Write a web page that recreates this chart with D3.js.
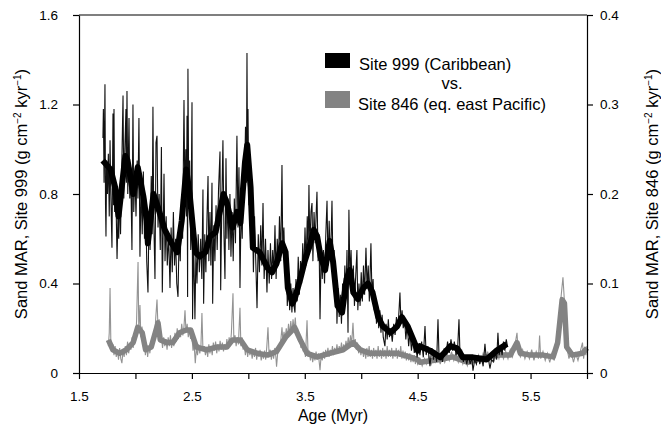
<!DOCTYPE html>
<html>
<head>
<meta charset="utf-8">
<script src="https://cdn.jsdelivr.net/npm/d3@7"></script>
<style>
  body { margin: 0; background: #fff; }
  text { font-family: "Liberation Sans", Arial, sans-serif; }
</style>
</head>
<body>
<div id="chart"></div>
<script>
// Site 999 (Caribbean), left axis -- [age Myr, sand MAR]
var site999Raw = [
  [1.712,1.05],[1.716,1.18],[1.722,0.85],[1.730,1.29],[1.735,0.75],[1.739,0.61],[1.745,0.95],[1.752,0.80],
  [1.760,0.98],[1.768,0.70],[1.775,1.04],[1.782,0.80],[1.792,0.56],[1.801,1.16],[1.806,0.75],[1.810,1.18],
  [1.816,0.72],[1.825,0.85],[1.837,0.51],[1.845,0.70],[1.852,0.60],[1.860,0.82],[1.868,0.62],[1.878,0.90],
  [1.890,1.24],[1.897,0.78],[1.905,0.98],[1.916,1.18],[1.920,0.85],[1.925,1.26],[1.932,0.80],[1.943,1.14],
  [1.950,0.78],[1.958,0.92],[1.969,0.55],[1.978,1.20],[1.985,0.72],[1.995,0.90],[2.005,0.70],[2.015,0.95],
  [2.022,0.78],[2.031,1.14],[2.040,0.52],[2.050,0.85],[2.060,0.62],[2.070,0.90],[2.080,0.60],[2.090,0.78],
  [2.100,0.50],[2.111,0.36],[2.120,0.70],[2.130,0.55],[2.140,0.88],[2.148,0.62],[2.155,1.19],[2.162,0.70],
  [2.173,0.42],[2.182,1.03],[2.191,1.06],[2.200,0.65],[2.210,0.80],[2.220,0.55],[2.230,1.01],[2.238,0.36],
  [2.253,0.89],[2.262,0.50],[2.272,0.70],[2.282,0.48],[2.294,0.62],[2.306,0.38],[2.316,0.65],[2.326,0.45],
  [2.336,0.72],[2.346,0.48],[2.356,0.60],[2.366,0.40],[2.377,0.34],[2.387,0.62],[2.397,0.50],[2.408,0.78],
  [2.418,0.60],[2.430,1.22],[2.438,0.75],[2.446,1.00],[2.452,0.70],[2.457,1.15],[2.462,0.34],[2.465,1.36],
  [2.472,0.80],[2.480,0.95],[2.490,0.55],[2.501,1.21],[2.506,0.24],[2.515,0.60],[2.527,0.24],[2.536,0.55],
  [2.545,0.40],[2.556,0.62],[2.566,0.45],[2.578,0.60],[2.588,0.42],[2.598,0.82],[2.604,0.31],[2.614,0.62],
  [2.624,0.45],[2.634,0.70],[2.643,0.88],[2.650,0.50],[2.660,0.72],[2.668,0.48],[2.678,0.85],[2.684,0.31],
  [2.694,0.66],[2.704,0.50],[2.714,0.75],[2.724,0.55],[2.736,0.82],[2.749,0.99],[2.755,0.37],[2.765,0.75],
  [2.775,1.04],[2.784,0.62],[2.793,0.42],[2.802,0.96],[2.810,0.60],[2.820,0.78],[2.828,0.55],[2.837,0.80],
  [2.846,0.52],[2.856,0.72],[2.866,0.50],[2.876,0.78],[2.886,0.58],[2.899,1.06],[2.908,0.65],[2.917,0.92],
  [2.926,0.38],[2.936,0.75],[2.946,0.60],[2.956,0.95],[2.964,0.80],[2.975,1.10],[2.983,0.85],[2.988,1.43],
  [2.993,0.90],[2.997,1.18],[3.005,0.75],[3.015,0.97],[3.025,0.55],[3.035,0.75],[3.045,0.45],[3.055,0.70],
  [3.067,0.48],[3.077,0.29],[3.088,0.62],[3.098,0.45],[3.110,0.66],[3.120,0.48],[3.130,0.76],[3.140,0.42],
  [3.152,0.60],[3.165,0.36],[3.174,0.55],[3.185,0.40],[3.196,0.58],[3.206,0.42],[3.216,0.55],[3.226,0.45],
  [3.236,0.66],[3.246,0.42],[3.256,0.60],[3.266,0.48],[3.276,0.70],[3.287,0.50],[3.298,0.93],[3.305,0.55],
  [3.315,0.65],[3.325,0.45],[3.335,0.55],[3.345,0.30],[3.356,0.45],[3.366,0.28],[3.376,0.40],[3.386,0.27],
  [3.396,0.38],[3.405,0.30],[3.413,0.27],[3.422,0.42],[3.432,0.32],[3.442,0.52],[3.452,0.35],[3.462,0.50],
  [3.472,0.40],[3.482,0.58],[3.492,0.45],[3.502,0.65],[3.512,0.48],[3.522,0.70],[3.530,0.55],[3.537,0.84],
  [3.545,0.55],[3.555,0.72],[3.564,0.76],[3.572,0.50],[3.582,0.72],[3.592,0.58],[3.600,0.70],[3.608,0.81],
  [3.618,0.50],[3.626,0.62],[3.635,0.24],[3.645,0.55],[3.655,0.42],[3.665,0.55],[3.675,0.40],[3.685,0.60],
  [3.697,0.77],[3.706,0.48],[3.716,0.68],[3.726,0.50],[3.734,0.62],[3.741,0.77],[3.750,0.45],[3.760,0.55],
  [3.770,0.32],[3.778,0.45],[3.785,0.22],[3.795,0.38],[3.805,0.25],[3.815,0.35],[3.825,0.22],[3.835,0.40],
  [3.845,0.30],[3.855,0.48],[3.865,0.35],[3.874,0.55],[3.883,0.18],[3.891,0.73],[3.900,0.42],[3.910,0.55],
  [3.920,0.35],[3.930,0.48],[3.940,0.30],[3.950,0.42],[3.962,0.55],[3.970,0.28],[3.980,0.40],[3.990,0.30],
  [4.000,0.45],[4.010,0.32],[4.020,0.48],[4.030,0.35],[4.042,0.56],[4.052,0.38],[4.062,0.48],[4.072,0.32],
  [4.086,0.58],[4.095,0.35],[4.105,0.42],[4.115,0.28],[4.125,0.35],[4.135,0.22],[4.145,0.30],[4.155,0.20],
  [4.165,0.28],[4.175,0.18],[4.185,0.26],[4.195,0.16],[4.210,0.12],[4.220,0.22],[4.230,0.15],[4.240,0.24],
  [4.250,0.16],[4.262,0.20],[4.275,0.14],[4.288,0.22],[4.300,0.17],[4.312,0.25],[4.325,0.20],[4.335,0.28],
  [4.343,0.36],[4.352,0.22],[4.362,0.28],[4.372,0.20],[4.385,0.24],[4.395,0.15],[4.408,0.22],[4.420,0.12],
  [4.432,0.18],[4.445,0.10],[4.458,0.16],[4.470,0.09],[4.482,0.14],[4.495,0.07],[4.508,0.12],[4.520,0.08],
  [4.535,0.14],[4.550,0.07],[4.565,0.21],[4.575,0.08],[4.590,0.12],[4.609,0.03],[4.625,0.11],[4.640,0.06],
  [4.655,0.10],[4.668,0.05],[4.680,0.24],[4.690,0.06],[4.705,0.09],[4.720,0.05],[4.735,0.11],[4.750,0.08],
  [4.765,0.14],[4.780,0.09],[4.795,0.15],[4.810,0.10],[4.825,0.14],[4.840,0.08],[4.855,0.12],[4.866,0.24],
  [4.875,0.08],[4.890,0.10],[4.905,0.05],[4.920,0.08],[4.935,0.04],[4.950,0.08],[4.965,0.04],[4.980,0.07],
  [4.990,0.01],[5.005,0.06],[5.020,0.04],[5.035,0.08],[5.050,0.04],[5.065,0.07],[5.080,0.03],[5.096,0.13],
  [5.110,0.05],[5.125,0.07],[5.140,0.02],[5.155,0.06],[5.170,0.05],[5.185,0.09],[5.200,0.06],[5.211,0.18],
  [5.222,0.08],[5.235,0.12],[5.248,0.08],[5.260,0.14],[5.272,0.10],[5.285,0.15],[5.295,0.12]
];

var site999Smooth = [
  [1.71,0.95],[1.78,0.91],[1.82,0.83],[1.85,0.70],[1.91,0.97],[1.93,0.95],[1.98,0.80],[2.02,0.92],
  [2.07,0.79],[2.10,0.68],[2.11,0.58],[2.16,0.80],[2.20,0.74],[2.26,0.64],[2.32,0.58],[2.37,0.54],
  [2.41,0.68],[2.45,0.91],[2.48,0.80],[2.53,0.54],[2.57,0.52],[2.62,0.54],[2.66,0.61],[2.71,0.63],
  [2.78,0.80],[2.81,0.76],[2.86,0.65],[2.90,0.72],[2.93,0.67],[2.97,0.94],[2.99,1.02],[3.02,0.83],
  [3.04,0.56],[3.10,0.54],[3.17,0.47],[3.21,0.45],[3.25,0.49],[3.30,0.58],[3.33,0.54],[3.35,0.38],
  [3.39,0.31],[3.41,0.33],[3.46,0.42],[3.50,0.50],[3.55,0.58],[3.58,0.64],[3.61,0.61],[3.64,0.52],
  [3.68,0.46],[3.72,0.59],[3.75,0.50],[3.79,0.30],[3.83,0.27],[3.87,0.42],[3.90,0.46],[3.93,0.36],
  [3.97,0.33],[4.02,0.38],[4.06,0.40],[4.10,0.36],[4.15,0.25],[4.19,0.21],[4.26,0.18],[4.32,0.21],
  [4.36,0.25],[4.41,0.21],[4.46,0.15],[4.50,0.10],[4.52,0.12],[4.61,0.10],[4.70,0.07],[4.79,0.12],
  [4.85,0.11],[4.90,0.07],[4.99,0.07],[5.11,0.06],[5.20,0.10],[5.29,0.13]
];

// Site 846 (eq. east Pacific), right axis -- [age Myr, sand MAR]
var site846Raw = [
  [1.760,0.030],[1.768,0.045],[1.775,0.095],[1.782,0.035],[1.790,0.028],[1.800,0.032],[1.810,0.020],[1.820,0.030],
  [1.830,0.018],[1.840,0.026],[1.850,0.015],[1.860,0.028],[1.870,0.016],[1.880,0.011],[1.890,0.025],[1.900,0.018],
  [1.910,0.030],[1.920,0.020],[1.930,0.035],[1.940,0.022],[1.950,0.030],[1.960,0.026],[1.970,0.040],[1.980,0.028],
  [1.990,0.045],[2.000,0.035],[2.010,0.058],[2.023,0.124],[2.030,0.045],[2.040,0.076],[2.048,0.040],[2.058,0.052],
  [2.068,0.030],[2.078,0.040],[2.088,0.020],[2.098,0.032],[2.108,0.018],[2.118,0.030],[2.128,0.022],[2.138,0.036],
  [2.148,0.028],[2.160,0.045],[2.170,0.040],[2.180,0.062],[2.191,0.082],[2.200,0.050],[2.210,0.060],[2.220,0.035],
  [2.230,0.042],[2.240,0.028],[2.250,0.040],[2.260,0.030],[2.270,0.038],[2.280,0.026],[2.290,0.040],[2.300,0.030],
  [2.310,0.042],[2.320,0.028],[2.330,0.038],[2.340,0.030],[2.350,0.045],[2.360,0.035],[2.370,0.050],[2.380,0.038],
  [2.390,0.048],[2.400,0.040],[2.410,0.055],[2.420,0.042],[2.430,0.052],[2.439,0.070],[2.448,0.045],[2.458,0.055],
  [2.468,0.040],[2.478,0.050],[2.488,0.038],[2.498,0.045],[2.510,0.025],[2.520,0.032],[2.530,0.011],[2.540,0.028],
  [2.550,0.020],[2.560,0.032],[2.570,0.022],[2.580,0.030],[2.589,0.067],[2.598,0.025],[2.610,0.030],[2.620,0.020],
  [2.630,0.028],[2.640,0.018],[2.650,0.032],[2.660,0.022],[2.670,0.030],[2.680,0.020],[2.690,0.034],[2.700,0.025],
  [2.710,0.035],[2.720,0.022],[2.730,0.032],[2.740,0.024],[2.750,0.036],[2.760,0.026],[2.770,0.034],[2.780,0.024],
  [2.790,0.032],[2.800,0.026],[2.810,0.038],[2.820,0.028],[2.830,0.040],[2.840,0.030],[2.850,0.045],[2.864,0.089],
  [2.872,0.035],[2.882,0.042],[2.892,0.030],[2.902,0.040],[2.912,0.032],[2.926,0.073],[2.934,0.030],[2.944,0.040],
  [2.954,0.026],[2.964,0.032],[2.974,0.020],[2.984,0.030],[2.994,0.018],[3.004,0.028],[3.014,0.020],[3.024,0.026],
  [3.034,0.016],[3.044,0.025],[3.054,0.018],[3.064,0.028],[3.074,0.015],[3.084,0.024],[3.094,0.018],[3.104,0.026],
  [3.114,0.014],[3.124,0.022],[3.134,0.016],[3.144,0.025],[3.154,0.015],[3.164,0.030],[3.174,0.051],[3.184,0.020],
  [3.194,0.026],[3.204,0.015],[3.214,0.024],[3.224,0.016],[3.234,0.028],[3.244,0.018],[3.250,0.007],[3.260,0.022],
  [3.270,0.030],[3.280,0.026],[3.290,0.040],[3.298,0.051],[3.306,0.036],[3.316,0.046],[3.326,0.038],[3.336,0.050],
  [3.346,0.040],[3.356,0.055],[3.366,0.042],[3.376,0.058],[3.386,0.045],[3.396,0.060],[3.406,0.048],[3.416,0.062],
  [3.426,0.042],[3.436,0.050],[3.446,0.035],[3.456,0.042],[3.466,0.028],[3.476,0.036],[3.486,0.024],[3.496,0.030],
  [3.506,0.018],[3.520,0.059],[3.530,0.018],[3.540,0.025],[3.550,0.014],[3.560,0.022],[3.570,0.012],[3.580,0.020],
  [3.590,0.014],[3.600,0.024],[3.610,0.015],[3.620,0.022],[3.635,0.003],[3.645,0.020],[3.655,0.014],[3.665,0.024],
  [3.675,0.016],[3.685,0.026],[3.695,0.018],[3.705,0.028],[3.715,0.018],[3.725,0.026],[3.735,0.020],[3.745,0.030],
  [3.755,0.020],[3.765,0.028],[3.775,0.022],[3.785,0.032],[3.795,0.022],[3.805,0.030],[3.815,0.024],[3.825,0.034],
  [3.835,0.024],[3.845,0.032],[3.855,0.026],[3.865,0.036],[3.875,0.028],[3.885,0.040],[3.895,0.030],[3.905,0.042],
  [3.915,0.032],[3.927,0.056],[3.937,0.030],[3.947,0.038],[3.957,0.026],[3.967,0.034],[3.977,0.022],[3.987,0.030],
  [3.997,0.020],[4.010,0.028],[4.020,0.018],[4.030,0.026],[4.040,0.016],[4.050,0.028],[4.060,0.018],[4.070,0.030],
  [4.080,0.018],[4.090,0.026],[4.100,0.016],[4.110,0.028],[4.120,0.018],[4.130,0.026],[4.140,0.016],[4.150,0.030],
  [4.160,0.018],[4.170,0.026],[4.180,0.016],[4.190,0.028],[4.200,0.018],[4.210,0.026],[4.220,0.016],[4.230,0.030],
  [4.240,0.018],[4.250,0.026],[4.260,0.018],[4.270,0.028],[4.280,0.016],[4.290,0.025],[4.300,0.018],[4.310,0.028],
  [4.320,0.016],[4.330,0.026],[4.340,0.018],[4.350,0.030],[4.360,0.016],[4.370,0.025],[4.380,0.016],[4.390,0.024],
  [4.400,0.014],[4.410,0.022],[4.420,0.014],[4.430,0.022],[4.440,0.012],[4.450,0.020],[4.460,0.012],[4.470,0.020],
  [4.480,0.010],[4.490,0.018],[4.500,0.010],[4.520,0.016],[4.540,0.008],[4.560,0.016],[4.580,0.010],[4.600,0.018],
  [4.620,0.010],[4.640,0.018],[4.660,0.012],[4.680,0.020],[4.700,0.010],[4.720,0.020],[4.740,0.012],[4.760,0.022],
  [4.780,0.014],[4.800,0.024],[4.820,0.014],[4.840,0.022],[4.860,0.012],[4.880,0.020],[4.900,0.010],[4.920,0.018],
  [4.940,0.008],[4.960,0.016],[4.980,0.010],[5.000,0.018],[5.020,0.010],[5.040,0.020],[5.060,0.012],[5.080,0.022],
  [5.100,0.014],[5.120,0.024],[5.140,0.014],[5.160,0.022],[5.180,0.014],[5.200,0.024],[5.220,0.016],[5.240,0.026],
  [5.260,0.016],[5.280,0.024],[5.300,0.016],[5.320,0.026],[5.340,0.018],[5.360,0.030],[5.380,0.045],[5.390,0.024],
  [5.410,0.018],[5.430,0.026],[5.450,0.016],[5.470,0.024],[5.490,0.016],[5.510,0.026],[5.530,0.014],[5.550,0.024],
  [5.570,0.016],[5.580,0.042],[5.590,0.016],[5.610,0.024],[5.630,0.014],[5.650,0.022],[5.670,0.012],[5.690,0.022],
  [5.710,0.014],[5.730,0.030],[5.750,0.050],[5.770,0.085],[5.787,0.107],[5.800,0.080],[5.810,0.060],[5.820,0.030],
  [5.840,0.016],[5.860,0.024],[5.880,0.012],[5.900,0.022],[5.920,0.014],[5.940,0.024],[5.960,0.034],[5.970,0.016],
  [5.980,0.026],[5.990,0.020],[6.000,0.030]
];

var site846Smooth = [
  [1.76,0.037],[1.80,0.026],[1.86,0.022],[1.92,0.026],[1.98,0.034],[2.02,0.051],[2.06,0.045],[2.09,0.026],
  [2.14,0.029],[2.20,0.056],[2.22,0.037],[2.28,0.034],[2.33,0.034],[2.39,0.045],[2.45,0.048],[2.49,0.048],
  [2.54,0.029],[2.63,0.026],[2.72,0.029],[2.81,0.029],[2.86,0.037],[2.93,0.037],[2.99,0.026],[3.08,0.022],
  [3.17,0.020],[3.25,0.024],[3.33,0.040],[3.39,0.048],[3.41,0.051],[3.46,0.037],[3.52,0.022],[3.61,0.018],
  [3.72,0.022],[3.84,0.026],[3.93,0.034],[3.99,0.026],[4.08,0.022],[4.20,0.022],[4.32,0.022],[4.43,0.018],
  [4.50,0.015],[4.52,0.012],[4.70,0.015],[4.81,0.018],[4.94,0.012],[5.11,0.018],[5.23,0.020],[5.32,0.020],
  [5.38,0.034],[5.41,0.022],[5.50,0.020],[5.61,0.020],[5.70,0.018],[5.74,0.034],[5.78,0.082],[5.80,0.078],
  [5.82,0.029],[5.87,0.020],[5.96,0.022],[6.00,0.028]
];

var xTicks = [1.5, 2.0, 2.5, 3.0, 3.5, 4.0, 4.5, 5.0, 5.5, 6.0];
var xTickLabels = ["1.5", "", "2.5", "", "3.5", "", "4.5", "", "5.5", ""];
var yLeftTicks = [0, 0.4, 0.8, 1.2, 1.6];
var yRightTicks = [0, 0.1, 0.2, 0.3, 0.4];

var W = 661, H = 430;
var margin = {top: 15, right: 74, bottom: 57, left: 79},
    width = W - margin.left - margin.right,
    height = H - margin.top - margin.bottom;

var svg = d3.select("#chart").append("svg")
    .attr("width", W)
    .attr("height", H);

var g = svg.append("g")
    .attr("transform", "translate(" + margin.left + "," + margin.top + ")");

var x = d3.scaleLinear().domain([1.5, 6.0]).range([0, width]);
var yL = d3.scaleLinear().domain([0, 1.6]).range([height, 0]);
var yR = d3.scaleLinear().domain([0, 0.4]).range([height, 0]);

var lineL = d3.line().x(function(d) { return x(d[0]); }).y(function(d) { return yL(d[1]); });
var lineR = d3.line().x(function(d) { return x(d[0]); }).y(function(d) { return yR(d[1]); });

// gray first, black on top
g.append("path").datum(site846Raw)
    .attr("d", lineR).attr("fill", "none")
    .attr("stroke", "#939393").attr("stroke-width", 1.1);
g.append("path").datum(site846Smooth)
    .attr("d", lineR).attr("fill", "none")
    .attr("stroke", "#838383").attr("stroke-width", 5.5).attr("stroke-linejoin", "round");

g.append("path").datum(site999Raw)
    .attr("d", lineL).attr("fill", "none")
    .attr("stroke", "#111").attr("stroke-width", 1.1);
g.append("path").datum(site999Smooth)
    .attr("d", lineL).attr("fill", "none")
    .attr("stroke", "#000").attr("stroke-width", 6).attr("stroke-linejoin", "round");

// top frame line
g.append("line").attr("x1", 0).attr("x2", width).attr("y1", 0).attr("y2", 0)
    .attr("stroke", "#000").attr("stroke-width", 1.2);

var fmt = function(d) { return d === 0 ? "0" : d.toFixed(1); };

var xAxis = g.append("g")
    .attr("transform", "translate(0," + height + ")")
    .call(d3.axisBottom(x).tickValues(xTicks).tickSize(6).tickSizeOuter(0)
      .tickFormat(function(d, i) { return xTickLabels[i]; }));
xAxis.selectAll("text").attr("dy", "1.4em");

var yAxisL = g.append("g")
    .call(d3.axisLeft(yL).tickValues(yLeftTicks).tickSize(6).tickSizeOuter(0).tickFormat(fmt));
yAxisL.selectAll("text").attr("x", -21);

var yAxisR = g.append("g")
    .attr("transform", "translate(" + width + ",0)")
    .call(d3.axisRight(yR).tickValues(yRightTicks).tickSize(6).tickSizeOuter(0).tickFormat(fmt));
yAxisR.selectAll("text").attr("x", 13);

svg.selectAll(".domain, .tick line").attr("stroke", "#000").attr("stroke-width", 1.2);
svg.selectAll(".tick text").attr("fill", "#000").style("font-size", "13.5px")
    .style("font-family", "'Liberation Sans', Arial, sans-serif");

// axis titles
svg.append("text")
    .attr("x", margin.left + width / 2).attr("y", 421)
    .attr("text-anchor", "middle").style("font-size", "16px")
    .text("Age (Myr)");

function yTitle(xPos, site) {
  var t = svg.append("text")
      .attr("transform", "translate(" + xPos + "," + (margin.top + height / 2) + ") rotate(-90)")
      .attr("text-anchor", "middle").style("font-size", "16.5px");
  t.append("tspan").text("Sand MAR, Site " + site + " (g cm");
  t.append("tspan").attr("dy", -6).style("font-size", "10px").text("\u22122");
  t.append("tspan").attr("dy", 6).text(" kyr");
  t.append("tspan").attr("dy", -6).style("font-size", "10px").text("\u22121");
  t.append("tspan").attr("dy", 6).text(")");
}
yTitle(27, "999");
yTitle(658, "846");

// legend
var legend = svg.append("g");
legend.append("rect").attr("x", 325).attr("y", 53).attr("width", 25).attr("height", 15).attr("fill", "#000");
legend.append("rect").attr("x", 325).attr("y", 91).attr("width", 25).attr("height", 17).attr("fill", "#838383");
legend.append("text").attr("x", 359).attr("y", 70).style("font-size", "16.5px").text("Site 999 (Caribbean)");
legend.append("text").attr("x", 452).attr("y", 89).attr("text-anchor", "middle").style("font-size", "16.5px").text("vs.");
legend.append("text").attr("x", 358).attr("y", 110).style("font-size", "16.5px").text("Site 846 (eq. east Pacific)");
</script>
</body>
</html>
